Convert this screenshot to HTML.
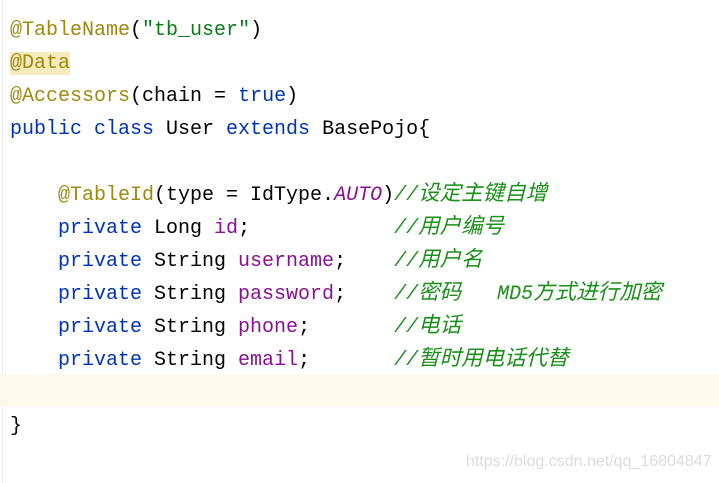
<!DOCTYPE html>
<html><head><meta charset="utf-8"><style>
html,body{margin:0;padding:0;background:#fff;}
body{width:719px;height:483px;position:relative;overflow:hidden;}
.l{position:absolute;left:10px;height:33px;line-height:33px;white-space:pre;
font-family:"Liberation Mono","Noto Sans CJK SC",monospace;font-size:20px;color:#000;}
.an{color:#9e880d}.st{color:#067d17}.kw{color:#0033b3}.fd{color:#871094}
.cm{color:#1a8f1a;font-style:italic;font-family:"Liberation Mono","Noto Sans CJK SC",monospace}
.cj{font-size:21.5px}
.it{font-style:italic}
.hl{position:absolute;left:0;top:374px;width:719px;height:33px;background:#fcfaed;}
.dh{background:#f6ebbc}
.gut{position:absolute;left:2px;top:0;width:1px;height:483px;background:#ececec}
.wm{position:absolute;left:466px;top:453px;font-family:"Liberation Sans",sans-serif;font-size:16px;color:#dcdcdc;}
</style></head><body>
<div class="gut"></div>
<div class="hl"></div>
<div class="l" style="top:14px"><span class="an">@TableName</span>(<span class="st">"tb_user"</span>)</div>
<div class="l" style="top:47px"><span class="an dh">@Data</span></div>
<div class="l" style="top:80px"><span class="an">@Accessors</span>(chain = <span class="kw">true</span>)</div>
<div class="l" style="top:113px"><span class="kw">public class</span> User <span class="kw">extends</span> BasePojo{</div>
<div class="l" style="top:179px">    <span class="an">@TableId</span>(type = IdType.<span class="fd it">AUTO</span>)<span class="cm">//<span class="cj">设定主键自增</span></span></div>
<div class="l" style="top:212px">    <span class="kw">private</span> Long <span class="fd">id</span>;            <span class="cm">//<span class="cj">用户编号</span></span></div>
<div class="l" style="top:245px">    <span class="kw">private</span> String <span class="fd">username</span>;    <span class="cm">//<span class="cj">用户名</span></span></div>
<div class="l" style="top:278px">    <span class="kw">private</span> String <span class="fd">password</span>;    <span class="cm">//<span class="cj">密码</span>   MD5<span class="cj">方式进行加密</span></span></div>
<div class="l" style="top:311px">    <span class="kw">private</span> String <span class="fd">phone</span>;       <span class="cm">//<span class="cj">电话</span></span></div>
<div class="l" style="top:344px">    <span class="kw">private</span> String <span class="fd">email</span>;       <span class="cm">//<span class="cj">暂时用电话代替</span></span></div>
<div class="l" style="top:410px">}</div>
<div class="wm">https://blog.csdn.net/qq_16804847</div>
</body></html>
